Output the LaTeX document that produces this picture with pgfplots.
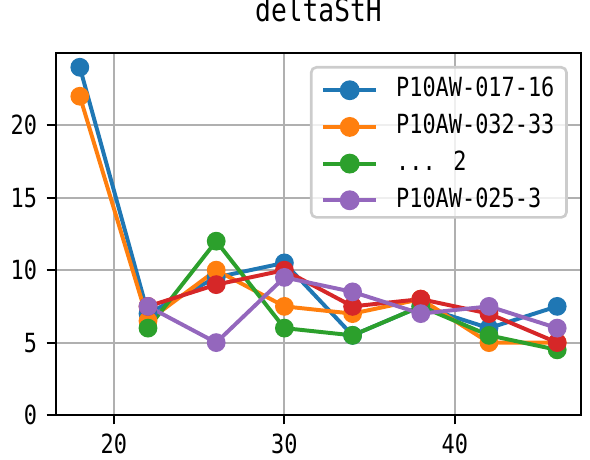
\documentclass[border=0pt]{standalone}
\usepackage{fontspec}
\setmainfont{DejaVu Sans Mono}[FakeStretch=0.83]
\usepackage{pgfplots}
\pgfplotsset{compat=1.18}
\definecolor{c0}{HTML}{1F77B4}
\definecolor{c1}{HTML}{FF7F0E}
\definecolor{c2}{HTML}{2CA02C}
\definecolor{c3}{HTML}{D62728}
\definecolor{c4}{HTML}{9467BD}
\definecolor{gridc}{HTML}{B0B0B0}
\definecolor{legc}{HTML}{CCCCCC}
\pgfplotsset{
  limg/.style={legend image code/.code={
    \path[draw=none, fill=none] (0pt,0pt) -- (20pt,0pt);
    \draw[overlay, #1, line width=1.5pt, draw opacity=1, sharp corners] (0pt,-1.1pt) -- (20pt,-1.1pt);
    \fill[overlay, #1, fill opacity=1] (10pt,-1.1pt) circle (3pt);
  }},
}
\begin{document}
\begin{tikzpicture}
\begin{axis}[
  name=ax,
  scale only axis, width=199pt, height=137.3pt,
  xmin=16.6, xmax=47.4, ymin=0, ymax=25,
  xtick={20,30,40}, ytick={0,5,10,15,20},
  tick align=outside, tick pos=left,
  major tick length=3.5pt,
  every tick/.style={black, line width=0.8pt},
  axis line style={line width=0.8pt},
  grid=major, grid style={color=gridc, line width=0.8pt},
  /pgf/number format/assume math mode=true,
  tick label style={font=\fontsize{10}{12}\selectfont},
  xticklabel style={inner ysep=3.5pt, inner xsep=0pt},
  yticklabel style={inner xsep=3.5pt, inner ysep=0pt},
  title={deltaStH},
  title style={font=\fontsize{12}{14}\selectfont, at={(0.5,1)}, anchor=base, yshift=6pt, inner sep=0pt},
  legend style={at={(1,1)}, anchor=north east, xshift=-5pt, yshift=-5pt,
    draw=legc, line width=1pt, rounded corners=2pt, fill=white, fill opacity=0.8, text opacity=1,
    font=\fontsize{10}{12}\selectfont, inner xsep=4.6pt, inner ysep=0.65pt, column sep=7.6pt,
    nodes={inner sep=0pt, text height=10.6pt, text depth=3.3pt}},
  legend cell align=left,
  every axis plot/.append style={line width=1.5pt, mark=*, mark size=2.8pt, mark options={solid, line width=0.4pt}},
]
\addplot[c0, mark options={fill=c0}, limg=c0] coordinates {(18,24) (22,7) (26,9.5) (30,10.5) (34,5.5) (38,7.5) (42,6) (46,7.5)};
\addlegendentry{P10AW-017-16}
\addplot[c1, mark options={fill=c1}, limg=c1] coordinates {(18,22) (22,6.5) (26,10) (30,7.5) (34,7) (38,8) (42,5) (46,5)};
\addlegendentry{P10AW-032-33}
\addplot[c2, mark options={fill=c2}, limg=c2] coordinates {(22,6) (26,12) (30,6) (34,5.5) (38,7.5) (42,5.5) (46,4.5)};
\addlegendentry{... 2}
\addplot[c3, mark options={fill=c3}, forget plot] coordinates {(22,7.5) (26,9) (30,10) (34,7.5) (38,8) (42,7) (46,5)};
\addplot[c4, mark options={fill=c4}, limg=c4] coordinates {(22,7.5) (26,5) (30,9.5) (34,8.5) (38,7) (42,7.5) (46,6)};
\addlegendentry{P10AW-025-3}
\end{axis}
\pgfresetboundingbox
\path ([xshift=-21.2pt,yshift=-16.7pt]ax.south west) rectangle ([xshift=3.4pt,yshift=20pt]ax.north east);
\end{tikzpicture}
\end{document}
